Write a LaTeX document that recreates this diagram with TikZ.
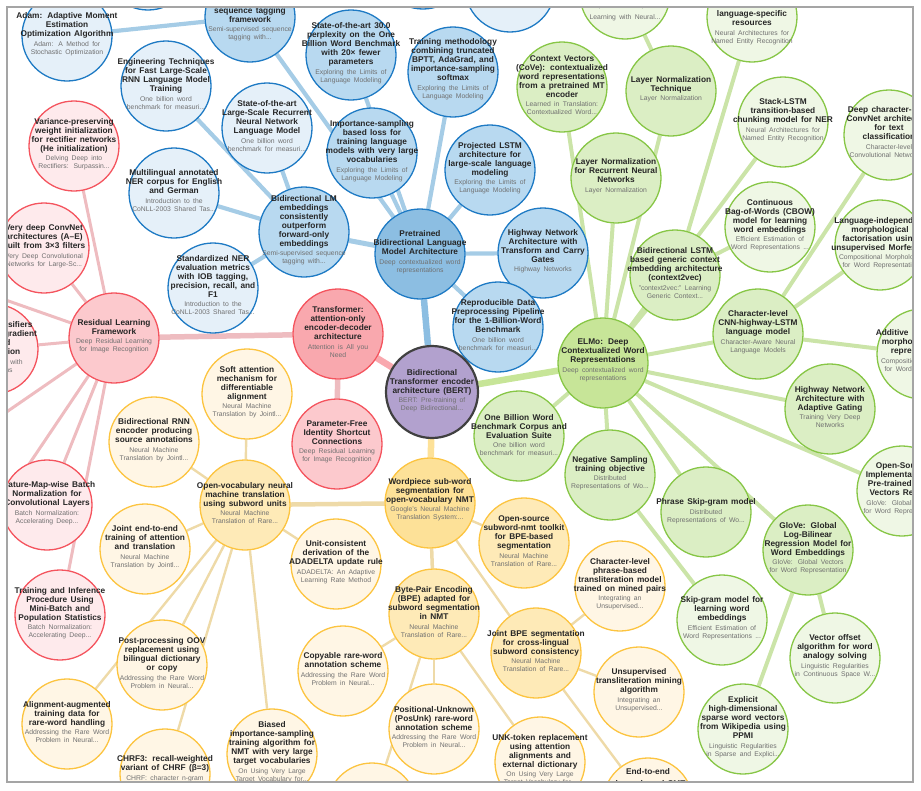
\documentclass[tikz,border=0pt]{standalone}
\usepackage{fontspec}
\setmainfont{Liberation Sans}
\usepackage{tikz}
\usetikzlibrary{backgrounds}
\definecolor{bluebd}{RGB}{30,122,196}
\definecolor{bluehub}{RGB}{140,190,226}
\definecolor{bluemid}{RGB}{184,217,240}
\definecolor{bluelt}{RGB}{229,240,249}
\definecolor{blueedge}{RGB}{165,204,230}
\definecolor{greenbd}{RGB}{135,198,70}
\definecolor{greenhub}{RGB}{199,229,152}
\definecolor{greenmid}{RGB}{219,238,196}
\definecolor{greenlt}{RGB}{239,247,229}
\definecolor{greenedge}{RGB}{203,228,168}
\definecolor{redbd}{RGB}{244,84,94}
\definecolor{redhub}{RGB}{249,168,174}
\definecolor{redmid}{RGB}{252,201,205}
\definecolor{redlt}{RGB}{254,234,236}
\definecolor{rededge}{RGB}{238,188,192}
\definecolor{yellowbd}{RGB}{252,196,64}
\definecolor{yellowhub}{RGB}{253,225,152}
\definecolor{yellowmid}{RGB}{254,234,183}
\definecolor{yellowlt}{RGB}{255,246,229}
\definecolor{yellowedge}{RGB}{238,218,168}
\definecolor{bertfill}{RGB}{178,161,206}
\definecolor{bertbd}{RGB}{64,64,64}
\definecolor{titleclr}{RGB}{38,38,38}
\definecolor{subclr}{RGB}{112,112,112}
\definecolor{frameclr}{RGB}{165,165,165}
\tikzset{
  % circles
  paper/.style   = {circle, minimum size=90pt, inner sep=0pt, line width=1.3pt},
  bhub/.style    = {paper, draw=bluebd, fill=bluehub},
  bmid/.style    = {paper, draw=bluebd, fill=bluemid},
  blt/.style     = {paper, draw=bluebd, fill=bluelt},
  ghub/.style    = {paper, draw=greenbd, fill=greenhub},
  gmid/.style    = {paper, draw=greenbd, fill=greenmid},
  glt/.style     = {paper, draw=greenbd, fill=greenlt},
  rhub/.style    = {paper, draw=redbd, fill=redhub},
  rmid/.style    = {paper, draw=redbd, fill=redmid},
  rlt/.style     = {paper, draw=redbd, fill=redlt},
  yhub/.style    = {paper, draw=yellowbd, fill=yellowhub},
  ymid/.style    = {paper, draw=yellowbd, fill=yellowmid},
  ylt/.style     = {paper, draw=yellowbd, fill=yellowlt},
  bertnode/.style= {paper, minimum size=92pt, draw=bertbd, fill=bertfill, line width=2.2pt},
  % texts
  ptxt/.style    = {text width=130pt, align=center, inner sep=0pt},
  % links
  blink/.style   = {draw=blueedge, line width=4.2pt},
  glink/.style   = {draw=greenedge, line width=4pt},
  rlink/.style   = {draw=rededge, line width=3pt},
  ylink/.style   = {draw=yellowedge, line width=2.4pt},
  hublink/.style = {line width=6.5pt},
}
\newcommand{\titlefont}{\fontsize{8.3}{9}\selectfont\bfseries\color{titleclr}}
\newcommand{\subfont}{\fontsize{6.8}{8}\selectfont\color{subclr}}
% [text offset]{name}{style}{position}{title}{source}
\newcommand{\paper}[6][-2]{%
  \node[#3] (#2) at (#4) {};
  \node[ptxt, shift={(0,#1)}] at (#4) {{\titlefont #5\par}\vspace{1.5pt}{\subfont #6\par}};
}

\begin{document}
\begin{tikzpicture}[x=1pt, y=-1pt]
  \useasboundingbox (0,0) rectangle (921,790);
  \begin{scope}
  \clip (7,7) rectangle (913,782);
  % language model cluster
  \node[blt] (topbluea) at (148,-35) {};
  \node[blt] (topblueb) at (423,-36) {};
  \node[blt] (topbluec) at (510,-13) {};
  \paper[7]{seqtag}{bmid}{250,17}{sequence tagging\\framework}{Semi-supervised sequence\\tagging with...}
  \paper{adam}{blt}{67,36}{Adam: Adaptive Moment\\Estimation\\Optimization Algorithm}{Adam: A Method for\\Stochastic Optimization}
  \paper{engineering}{blt}{166,86}{Engineering Techniques\\for Fast Large-Scale\\RNN Language Model\\Training}{One billion word\\benchmark for measuri...}
  \paper[-2.5]{multilingual}{blt}{174,193}{Multilingual annotated\\NER corpus for English\\and German}{Introduction to the\\CoNLL-2003 Shared Tas...}
  \paper[-3]{standardized}{blt}{213,288}{Standardized NER\\evaluation metrics\\with IOB tagging,\\precision, recall, and\\F1}{Introduction to the\\CoNLL-2003 Shared Tas...}
  \paper{sotarnn}{blt}{267,128}{State-of-the-art\\Large-Scale Recurrent\\Neural Network\\Language Model}{One billion word\\benchmark for measuri...}
  \paper{perplexity}{bmid}{351,55}{State-of-the-art 30.0\\perplexity on the One\\Billion Word Benchmark\\with 20× fewer\\parameters}{Exploring the Limits of\\Language Modeling}
  \paper[-3]{trainmeth}{bmid}{453,72}{Training methodology\\combining truncated\\BPTT, AdaGrad, and\\importance-sampling\\softmax}{Exploring the Limits of\\Language Modeling}
  \paper{impsamp}{bmid}{372,153}{Importance-sampling\\based loss for\\training language\\models with very large\\vocabularies}{Exploring the Limits of\\Language Modeling}
  \paper{projlstm}{bmid}{490,170}{Projected LSTM\\architecture for\\large-scale language\\modeling}{Exploring the Limits of\\Language Modeling}
  \paper{highwaytc}{bmid}{543,253}{Highway Network\\Architecture with\\Transform and Carry\\Gates}{Highway Networks}
  \paper{reproducible}{bmid}{498,327}{Reproducible Data\\Preprocessing Pipeline\\for the 1-Billion-Word\\Benchmark}{One billion word\\benchmark for measuri...}
  \paper{bilmemb}{bmid}{304,232}{Bidirectional LM\\embeddings\\consistently\\outperform\\forward-only\\embeddings}{Semi-supervised sequence\\tagging with...}
  \paper{pretrained}{bhub}{420,254}{Pretrained\\Bidirectional Language\\Model Architecture}{Deep contextualized word\\representations}
  % word embedding cluster
  \node[glt] (seqseq) at (625,-6) {};
  \node[ptxt] at (625,12) {\subfont Sequence to Sequence\\Learning with Neural...};
  \paper[10.5]{langspec}{glt}{752,17}{language-specific\\resources}{Neural Architectures for\\Named Entity Recognition}
  \paper{cove}{gmid}{562,87}{Context Vectors\\(CoVe): contextualized\\word representations\\from a pretrained MT\\encoder}{Learned in Translation:\\Contextualized Word...}
  \paper{lntech}{gmid}{671,91}{Layer Normalization\\Technique}{Layer Normalization}
  \paper{lnrnn}{gmid}{616,178}{Layer Normalization\\for Recurrent Neural\\Networks}{Layer Normalization}
  \paper{stacklstm}{glt}{783,122}{Stack-LSTM\\transition-based\\chunking model for NER}{Neural Architectures for\\Named Entity Recognition}
  \paper[-3]{charconv}{glt}{889,135}{Deep character-level\\ConvNet architecture\\for text\\classification}{Character-level\\Convolutional Networks...}
  \paper{cbow}{glt}{770,227}{Continuous\\Bag-of-Words (CBOW)\\model for learning\\word embeddings}{Efficient Estimation of\\Word Representations ...}
  \paper{context2vec}{gmid}{675,275}{Bidirectional LSTM\\based generic context\\embedding architecture\\(context2vec)}{"context2vec:" Learning\\Generic Context...}
  \paper{langind}{glt}{880,245}{Language-independent\\morphological\\factorisation using\\unsupervised Morfessor}{Compositional Morphology\\for Word Representati...}
  \paper{charcnn}{gmid}{758,334}{Character-level\\CNN-highway-LSTM\\language model}{Character-Aware Neural\\Language Models}
  \paper[-3]{additive}{glt}{922,354}{Additive compositional\\morphological word\\representations}{Compositional Morphology\\for Word Representati...}
  \paper{hwgate}{gmid}{830,409}{Highway Network\\Architecture with\\Adaptive Gating}{Training Very Deep\\Networks}
  \paper{opensrc}{glt}{902,491}{Open-Source\\Implementation of\\Pre-trained Word\\Vectors Release}{GloVe: Global Vectors\\for Word Representation}
  \paper[-1]{onebillion}{gmid}{519,436}{One Billion Word\\Benchmark Corpus and\\Evaluation Suite}{One billion word\\benchmark for measuri...}
  \paper{negsamp}{gmid}{610,475}{Negative Sampling\\training objective}{Distributed\\Representations of Wo...}
  \paper[-1]{phraseskip}{gmid}{706,512}{Phrase Skip-gram model}{Distributed\\Representations of Wo...}
  \paper{glove}{gmid}{808,550}{GloVe: Global\\Log-Bilinear\\Regression Model for\\Word Embeddings}{GloVe: Global Vectors\\for Word Representation}
  \paper{skipgram}{glt}{722,620}{Skip-gram model for\\learning word\\embeddings}{Efficient Estimation of\\Word Representations ...}
  \paper{vecoffset}{glt}{835,658}{Vector offset\\algorithm for word\\analogy solving}{Linguistic Regularities\\in Continuous Space W...}
  \paper{explicit}{glt}{743,729}{Explicit\\high-dimensional\\sparse word vectors\\from Wikipedia using\\PPMI}{Linguistic Regularities\\in Sparse and Explici...}
  \paper[-2.5]{elmo}{ghub}{603,363}{ELMo: Deep\\Contextualized Word\\Representations}{Deep contextualized word\\representations}
  % residual / attention cluster
  \paper{variance}{rlt}{74,146}{Variance-preserving\\weight initialization\\for rectifier networks\\(He initialization)}{Delving Deep into\\Rectifiers: Surpassin...}
  \paper{vggdeep}{rlt}{44,248}{Very deep ConvNet\\architectures (A–E)\\built from 3×3 filters}{Very Deep Convolutional\\Networks for Large-Sc...}
  \paper{auxcls}{rlt}{-7,349}{Auxiliary classifiers\\for improved gradient\\flow and\\regularization}{Going Deeper with\\Convolutions}
  \paper{featbn}{rlt}{47,505}{Feature-Map-wise Batch\\Normalization for\\Convolutional Layers}{Batch Normalization:\\Accelerating Deep...}
  \paper{traininf}{rlt}{60,615}{Training and Inference\\Procedure Using\\Mini-Batch and\\Population Statistics}{Batch Normalization:\\Accelerating Deep...}
  \paper{residual}{rmid}{114,338}{Residual Learning\\Framework}{Deep Residual Learning\\for Image Recognition}
  \paper{paramfree}{rmid}{337,444}{Parameter-Free\\Identity Shortcut\\Connections}{Deep Residual Learning\\for Image Recognition}
  \paper{transformer}{rhub}{338,334}{Transformer:\\attention-only\\encoder-decoder\\architecture}{Attention is All you\\Need}
  \coordinate (resoffa) at (-40,284);
  \coordinate (resoffb) at (-40,444);
  \coordinate (resoffc) at (-20,537);
  % subword / NMT cluster
  \paper{softatt}{ylt}{247,394}{Soft attention\\mechanism for\\differentiable\\alignment}{Neural Machine\\Translation by Jointl...}
  \paper{birnn}{ylt}{154,442}{Bidirectional RNN\\encoder producing\\source annotations}{Neural Machine\\Translation by Jointl...}
  \paper{jointe2e}{ylt}{145,549}{Joint end-to-end\\training of attention\\and translation}{Neural Machine\\Translation by Jointl...}
  \paper{adadelta}{ylt}{336,564}{Unit-consistent\\derivation of the\\ADADELTA update rule}{ADADELTA: An Adaptive\\Learning Rate Method}
  \paper{charphrase}{ylt}{620,586}{Character-level\\phrase-based\\transliteration model\\trained on mined pairs}{Integrating an\\Unsupervised...}
  \paper{postproc}{ylt}{162,665}{Post-processing OOV\\replacement using\\bilingual dictionary\\or copy}{Addressing the Rare Word\\Problem in Neural...}
  \paper{copyable}{ylt}{343,671}{Copyable rare-word\\annotation scheme}{Addressing the Rare Word\\Problem in Neural...}
  \paper{alignaug}{ylt}{67,724}{Alignment-augmented\\training data for\\rare-word handling}{Addressing the Rare Word\\Problem in Neural...}
  \paper{posunk}{ylt}{434,729}{Positional-Unknown\\(PosUnk) rare-word\\annotation scheme}{Addressing the Rare Word\\Problem in Neural...}
  \paper{translitmine}{ylt}{639,692}{Unsupervised\\transliteration mining\\algorithm}{Integrating an\\Unsupervised...}
  \paper{unktoken}{ylt}{540,762}{UNK-token replacement\\using attention\\alignments and\\external dictionary}{On Using Very Large\\Target Vocabulary for...}
  \paper[-5.5]{chrf}{ylt}{165,774}{CHRF3: recall-weighted\\variant of CHRF (β=3)}{CHRF: character n-gram}
  \paper{biased}{ylt}{272,754}{Biased\\importance-sampling\\training algorithm for\\NMT with very large\\target vocabularies}{On Using Very Large\\Target Vocabulary for...}
  \node[ylt] (e2esmt) at (648,803) {};
  \node[ptxt] at (648,778) {\titlefont End-to-end\\phrase-based SMT};
  \node[ylt] (bottomyellow) at (372,808) {};
  \paper{openvocab}{ymid}{245,505}{Open-vocabulary neural\\machine translation\\using subword units}{Neural Machine\\Translation of Rare...}
  \paper{subwordnmt}{ymid}{524,543}{Open-source\\subword-nmt toolkit\\for BPE-based\\segmentation}{Neural Machine\\Translation of Rare...}
  \paper{bpe}{ymid}{434,614}{Byte-Pair Encoding\\(BPE) adapted for\\subword segmentation\\in NMT}{Neural Machine\\Translation of Rare...}
  \paper{jointbpe}{ymid}{536,653}{Joint BPE segmentation\\for cross-lingual\\subword consistency}{Neural Machine\\Translation of Rare...}
  \paper[-3.5]{wordpiece}{yhub}{430,503}{Wordpiece sub-word\\segmentation for\\open-vocabulary NMT}{Google's Neural Machine\\Translation System:...}
  % centre
  \paper[-1.5]{bert}{bertnode}{432,392}{Bidirectional\\Transformer encoder\\architecture (BERT)}{BERT: Pre-training of\\Deep Bidirectional...}
  \end{scope}

  \begin{scope}[on background layer]
  \clip (7,7) rectangle (913,782);
  % links to the centre
  \draw[hublink, draw=bluehub] (bert) -- (pretrained);
  \draw[hublink, draw=redhub] (bert) -- (transformer);
  \draw[hublink, draw=yellowhub] (bert) -- (wordpiece);
  \draw[hublink, draw=greenhub] (bert) -- (elmo);
  % blue links
  \foreach \n in {seqtag, perplexity, impsamp, trainmeth, projlstm, highwaytc, reproducible}
    \draw[blink] (pretrained) -- (\n);
  \draw[blink, line width=5pt] (pretrained) -- (bilmemb);
  \foreach \n in {engineering, multilingual, standardized, sotarnn}
    \draw[blink] (bilmemb) -- (\n);
  \draw[blink] (adam) -- (seqtag);
  % green links
  \foreach \n in {cove, lntech, lnrnn, context2vec, stacklstm, charcnn, hwgate, opensrc, glove, phraseskip, negsamp, onebillion}
    \draw[glink] (elmo) -- (\n);
  \draw[glink] (context2vec) -- (langspec);
  \draw[glink] (context2vec) -- (cbow);
  \draw[glink] (lntech) -- (seqseq);
  \foreach \n in {charconv, langind, additive}
    \draw[glink] (charcnn) -- (\n);
  \draw[glink] (glove) -- (vecoffset);
  \draw[glink] (glove) -- (explicit);
  \draw[glink] (negsamp) -- (skipgram);
  % red links
  \draw[rlink, line width=5.5pt] (transformer) -- (residual);
  \draw[rlink, line width=5.5pt] (transformer) -- (paramfree);
  \foreach \n in {variance, vggdeep, auxcls, featbn, traininf, resoffa, resoffb, resoffc}
    \draw[rlink] (residual) -- (\n);
  % yellow links
  \draw[ylink, line width=4.5pt] (wordpiece) -- (openvocab);
  \draw[ylink, line width=3.5pt] (wordpiece) -- (bpe);
  \draw[ylink] (wordpiece) -- (subwordnmt);
  \draw[ylink] (wordpiece) -- (jointbpe);
  \foreach \n in {softatt, birnn, jointe2e, adadelta, postproc, alignaug, chrf, biased}
    \draw[ylink] (openvocab) -- (\n);
  \foreach \n in {copyable, posunk, unktoken, bottomyellow}
    \draw[ylink] (bpe) -- (\n);
  \foreach \n in {charphrase, translitmine, e2esmt}
    \draw[ylink] (jointbpe) -- (\n);
  \end{scope}

  % frame
  \draw[frameclr, line width=1.2pt] (7,7) rectangle (913,782);
\end{tikzpicture}
\end{document}
